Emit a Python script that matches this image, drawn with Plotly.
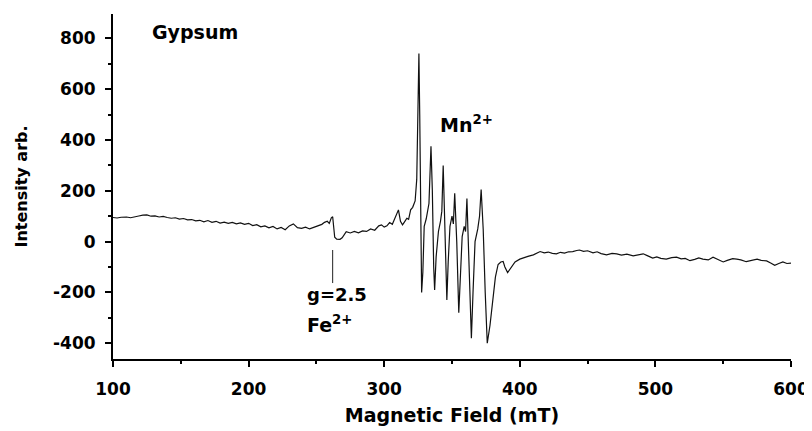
import plotly.graph_objects as go

# Magnetic field (mT) and EPR intensity (arb.)
field = [100, 103, 106, 110, 113, 116, 119, 122, 125, 128, 131, 134, 137, 140, 143, 146, 149, 152, 155, 158,
         161, 164, 167, 170, 173, 176, 179, 182, 185, 188, 191, 194, 197, 200, 203, 206, 209, 212, 215, 218,
         221, 224, 227, 230, 233, 236, 239, 242, 245, 248, 251, 254, 256, 258, 259.5, 261, 262, 262.8, 263.5, 265,
         267.4, 269, 272, 275, 278, 281, 284, 287, 290, 293, 296, 298, 300, 302, 304, 306, 308, 310.5, 312, 313.5,
         315, 316.7, 318, 319.5, 321, 322.8, 324, 324.8, 325.6, 326.2, 327, 327.6, 328.5, 329.5, 331, 333, 334.5, 335.5,
         336.5, 337.2, 338.3, 340, 341.5, 342.5, 343.5, 344.5, 345.3, 346.2, 347.2, 348.5, 350, 351, 352, 353.5, 355, 356,
         357.5, 359, 360, 361, 362.5, 364.3, 365.5, 367, 369, 370.3, 371.5, 373, 374.5, 376, 378, 380, 382, 384,
         386, 387.7, 389, 391, 393.5, 396.5, 400, 403, 406, 410, 413, 415, 418, 421, 424, 427, 430, 433, 436, 439,
         442, 444, 447, 450, 454, 457, 460, 464, 468, 471.5, 475, 479, 483.6, 487, 491, 494, 498, 501, 504, 508,
         512, 515.6, 519, 522, 525.5, 529, 532, 535, 539, 542.5, 546, 550, 553, 557, 560, 563, 567, 571, 575, 578,
         582, 585, 588, 591, 594, 597, 600]
intensity = [95, 93, 96, 97, 94, 99, 101, 104, 105, 100, 101, 97, 99, 95, 92, 94, 89, 91, 86, 87,
             82, 84, 78, 83, 76, 80, 73, 77, 72, 76, 70, 74, 68, 72, 63, 67, 58, 62, 54, 60,
             50, 56, 47, 62, 70, 55, 52, 57, 50, 56, 62, 68, 76, 80, 72, 94, 98, 60, 17, 10,
             9, 15, 39, 34, 40, 35, 42, 40, 50, 45, 62, 66, 57, 62, 75, 68, 95, 125, 80, 66,
             78, 92, 88, 125, 135, 160, 245, 520, 740, 500, 100, -200, -120, 60, 90, 150, 375, 200,
             -100, -190, -60, 40, 80, 120, 300, 100, -100, -230, -80, 60, 100, 70, 190, 0, -280, -150,
             20, 60, 40, 170, -100, -380, -200, 0, 50, 100, 205, 50, -200, -400, -330, -220, -140, -90,
             -80, -78, -100, -122, -105, -80, -69, -62, -58, -52, -45, -39, -44, -41, -46, -48, -42, -45, -40, -39,
             -35, -33, -38, -36, -44, -40, -47, -52, -46, -48, -53, -49, -56, -52, -48, -55, -65, -60, -66, -69,
             -63, -61, -68, -66, -75, -70, -64, -69, -72, -61, -70, -80, -74, -67, -69, -72, -79, -73, -69, -74,
             -76, -84, -93, -86, -80, -86, -85]

x_tickvals = [100, 200, 300, 400, 500, 600]
x_ticktext = ["100", "200", "300", "400", "500", "600"]
y_tickvals = [-400, -200, 0, 200, 400, 600, 800]
y_ticktext = ["-400", "-200", "0", "200", "400", "600", "800"]

FONT = "DejaVu Sans"

fig = go.Figure()
fig.add_trace(go.Scatter(x=field, y=intensity, mode="lines",
                         line=dict(color="#111111", width=1.2), showlegend=False))

axis_common = dict(showline=True, linecolor="black", linewidth=2, ticks="outside",
                   ticklen=6, tickwidth=2, tickcolor="black", showgrid=False, zeroline=False,
                   tickfont=dict(family=FONT, size=17, color="black", weight="bold"), mirror=False,
                   automargin=False)

fig.update_xaxes(range=[100, 600], tickvals=x_tickvals, ticktext=x_ticktext, ticklabelstandoff=8,
                 minor=dict(ticks="outside", ticklen=3, tickwidth=2, tickcolor="black", dtick=50, tick0=100),
                 title=dict(text="Magnetic Field (mT)", standoff=10,
                            font=dict(family=FONT, size=19, color="black", weight="bold")),
                 **axis_common)
fig.update_yaxes(range=[-462, 896], tickvals=y_tickvals, ticktext=y_ticktext, ticklabelstandoff=6,
                 minor=dict(ticks="outside", ticklen=3, tickwidth=2, tickcolor="black", dtick=100, tick0=0),
                 title=dict(text="Intensity arb.", standoff=21,
                            font=dict(family=FONT, size=16, color="black", weight="bold")),
                 **axis_common)

# Fe2+ marker line
fig.add_shape(type="line", x0=262, x1=262, y0=-33, y1=-163, xref="x", yref="y",
              line=dict(color="#222222", width=1))

lab_font = dict(family=FONT, size=19, color="black", weight="bold")
fig.add_annotation(x=127, y=825, xref="x", yref="y", text="Gypsum", showarrow=False,
                   xanchor="left", yanchor="middle", font=lab_font)
fig.add_annotation(x=241.5, y=-210, xref="x", yref="y", text="g=2.5", showarrow=False,
                   xanchor="left", yanchor="middle", font=dict(family=FONT, size=18, color="black", weight="bold"))
fig.add_annotation(x=241.5, y=-325, xref="x", yref="y", text="Fe<sup>2+</sup>", showarrow=False,
                   xanchor="left", yanchor="middle", font=lab_font)
fig.add_annotation(x=339.5, y=465, xref="x", yref="y", text="Mn<sup>2+</sup>", showarrow=False,
                   xanchor="left", yanchor="middle", font=lab_font)

# page body adds an 8px offset, so the figure is sized to the remaining area
fig.update_layout(width=804, height=423, margin=dict(l=105, r=21, t=6, b=72),
                  plot_bgcolor="white", paper_bgcolor="white")

fig.write_html("out.html")
